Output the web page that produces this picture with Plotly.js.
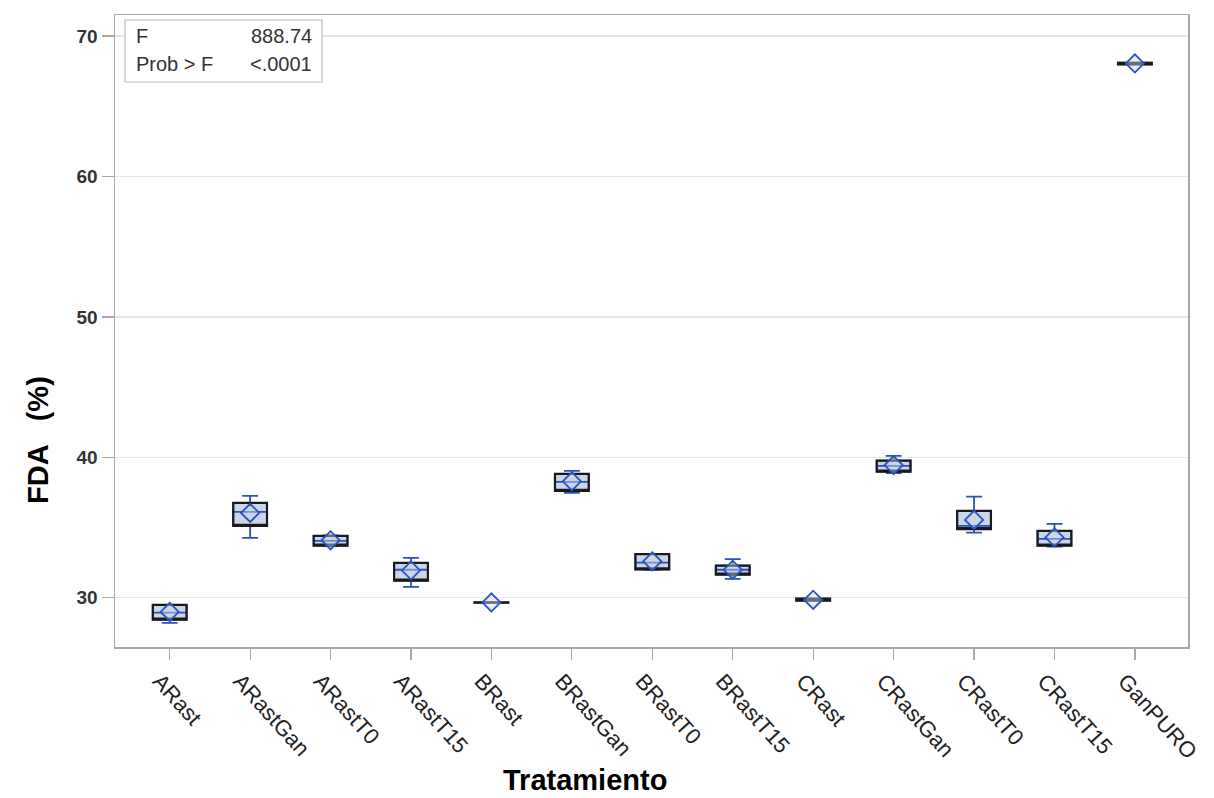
<!DOCTYPE html>
<html>
<head>
<meta charset="utf-8">
<script src="https://cdn.plot.ly/plotly-3.0.1.min.js"></script>
<style>html,body{margin:0;padding:0;background:#fff;}#chart{width:1214px;height:798px;}</style>
</head>
<body>
<div id="chart"></div>
<script>
const categories = ["ARast","ARastGan","ARastT0","ARastT15","BRast","BRastGan","BRastT0","BRastT15","CRast","CRastGan","CRastT0","CRastT15","GanPURO"];
const q1Values     = [28.45, 35.12, 33.72, 31.22, 29.66, 37.62, 32.02, 31.66, 29.80, 38.99, 34.89, 33.72, 67.98];
const medianValues = [28.95, 36.12, 34.05, 32.00, 29.67, 38.26, 32.51, 32.00, 29.86, 39.40, 35.12, 34.20, 68.04];
const q3Values     = [29.50, 36.76, 34.41, 32.49, 29.68, 38.83, 33.11, 32.30, 29.95, 39.77, 36.19, 34.77, 68.10];
const minValues    = [28.22, 34.27, 33.68, 30.78, 29.66, 37.47, 32.00, 31.35, 29.80, 38.88, 34.65, 33.65, 67.98];
const maxValues    = [29.50, 37.26, 34.45, 32.85, 29.68, 39.04, 33.11, 32.75, 29.95, 40.11, 37.21, 35.27, 68.10];
const meanValues   = [29.00, 36.05, 34.10, 31.95, 29.67, 38.30, 32.60, 32.00, 29.86, 39.45, 35.55, 34.30, 68.05];
const statLabels = ["F", "Prob > F"];
const statValues = ["888.74", "<.0001"];

const blue = "#2A52BE";
const fill = "#CBD6E9";

const traces = [
  {
    type: "box", x: categories, q1: q1Values, median: medianValues, q3: q3Values,
    lowerfence: minValues, upperfence: maxValues,
    boxpoints: false, width: 0.42, whiskerwidth: 0.47,
    fillcolor: fill, line: {color: blue, width: 1.8},
    hoverinfo: "skip", showlegend: false
  },
  {
    type: "scatter", mode: "markers", x: categories, y: meanValues,
    marker: {symbol: "diamond", size: 14, color: "rgba(203,214,233,0.45)", line: {color: blue, width: 1.8}},
    hoverinfo: "skip", showlegend: false
  },
  {
    type: "box", x: categories, q1: q1Values, median: q1Values, q3: q3Values,
    lowerfence: q1Values, upperfence: q3Values,
    boxpoints: false, width: 0.42, whiskerwidth: 0.47,
    fillcolor: "rgba(0,0,0,0)", line: {color: "#1a1a1a", width: 2.2},
    hoverinfo: "skip", showlegend: false
  }
];

const L = 115, R = 1188, T = 15, B = 647;
const px = v => (v - L) / (R - L);
const py = v => (B - v) / (B - T);

const font = "Liberation Sans, Arial, sans-serif";
const layout = {
  width: 1214, height: 798,
  margin: {l: L, r: 1214 - R, t: T, b: 798 - B},
  paper_bgcolor: "#fff", plot_bgcolor: "#fff",
  font: {family: font, color: "#333"},
  boxmode: "overlay",
  xaxis: {
    type: "category", range: [-0.68, 12.66],
    showline: true, mirror: true, linecolor: "#A8A8A8", linewidth: 1.5,
    ticks: "outside", ticklen: 11, tickcolor: "#A8A8A8", tickwidth: 1.2,
    tickangle: 48, ticklabelshift: -10, ticklabelstandoff: 0,
    tickfont: {size: 22, color: "#222", family: font},
    showgrid: false, zeroline: false
  },
  yaxis: {
    range: [26.5, 71.5], tickvals: [30, 40, 50, 60, 70],
    showline: true, mirror: true, linecolor: "#A8A8A8", linewidth: 1.5,
    ticks: "outside", ticklen: 12, tickcolor: "#A8A8A8", tickwidth: 1.2,
    tickfont: {size: 19, color: "#333", family: font, weight: "bold"},
    showgrid: true, gridcolor: "#E6E6E6", gridwidth: 1.2, zeroline: false
  },
  shapes: [
    {type: "rect", xref: "paper", yref: "paper", x0: px(125), x1: px(322), y0: py(82), y1: py(20),
     line: {color: "#BBBBBB", width: 1.2}, fillcolor: "#fff"}
  ],
  annotations: [
    {xref: "paper", yref: "paper", x: px(134), y: py(36), xanchor: "left", yanchor: "middle", showarrow: false,
     text: statLabels[0], font: {size: 20, color: "#333", family: font}},
    {xref: "paper", yref: "paper", x: px(314), y: py(36), xanchor: "right", yanchor: "middle", showarrow: false,
     text: statValues[0], font: {size: 20, color: "#333", family: font}},
    {xref: "paper", yref: "paper", x: px(134), y: py(64), xanchor: "left", yanchor: "middle", showarrow: false,
     text: statLabels[1], font: {size: 20, color: "#333", family: font}},
    {xref: "paper", yref: "paper", x: px(314), y: py(64), xanchor: "right", yanchor: "middle", showarrow: false,
     text: statValues[1], font: {size: 20, color: "#333", family: font}},
    {xref: "paper", yref: "paper", x: px(585), y: py(780), xanchor: "center", yanchor: "middle", showarrow: false,
     text: "<b>Tratamiento</b>", font: {size: 29, color: "#000", family: font}},
    {xref: "paper", yref: "paper", x: px(38), y: py(440), xanchor: "center", yanchor: "middle", showarrow: false,
     textangle: -90, text: "<b>FDA   (%)</b>", font: {size: 29, color: "#000", family: font}}
  ]
};

Plotly.newPlot("chart", traces, layout, {staticPlot: true, displayModeBar: false});
</script>
</body>
</html>
